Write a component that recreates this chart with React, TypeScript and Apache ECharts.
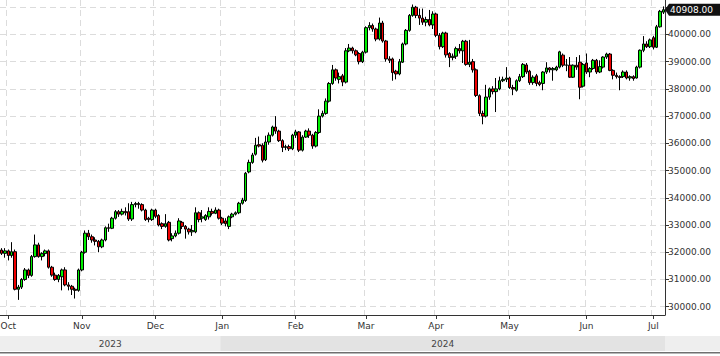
import React, { useEffect, useRef } from "react";
import * as echarts from "echarts";

const FIRST_DAY = "2023-09-28";
const LAST_DAY = "2024-07-04";
const CLOSED_DAYS = ["2023-12-25", "2024-01-01"];
const MONTHS = ["Jan", "Feb", "Mar", "Apr", "May", "Jun", "Jul", "Aug", "Sep", "Oct", "Nov", "Dec"];
const YEARS = ["2023", "2024"];

const opens = [
  32080, 31960, 32050, 31880, 32020, 30640, 30720, 31000, 31350, 31150,
  31840, 32270, 31840, 31950, 32050, 31450, 31160, 31000, 31100, 31350,
  30800, 30750, 30640, 30600, 31350, 32000, 32700, 32570, 32450, 32400,
  32200, 32450, 32900, 32880, 33250, 33490, 33400, 33500, 33490, 33220,
  33750, 33790, 33750, 33550, 33250, 33200, 33550, 33350, 33050, 32950,
  33100, 32500, 32600, 32700, 33100, 32950, 32850, 32750, 32750, 33450,
  33250, 33200, 33300, 33500, 33430, 33550, 33250, 33150, 32950, 33300,
  33400, 33450, 33800, 33900, 34950, 35300, 35600, 35950, 35930, 35400,
  36050, 36300, 36600, 36450, 36100, 35850, 35880, 35800, 36300, 36420,
  35750, 36230, 36450, 36300, 35900, 36400, 37000, 37100, 37550, 38200,
  38700, 38350, 38480, 38250, 39400, 39500, 39400, 39300, 39000, 39350,
  40250, 40330, 40200, 39830, 40420, 39760, 39100, 39100, 38650, 38550,
  38980, 39650, 40150, 40700, 41000, 40700, 40600, 40450, 40550, 40350,
  40750, 39970, 39550, 40050, 39300, 39150, 39200, 39480, 39400, 39750,
  38900, 39000, 38700, 37750, 37100, 37000, 37700, 38000, 37900, 38000,
  38300, 38350, 38400, 38050, 37950, 38300, 38450, 38880, 38650, 38230,
  38480, 38230, 38200, 38620, 38770, 38700, 38700, 38800, 39240, 38870,
  38870, 38430, 38870, 38980, 38100, 38950, 38620, 38750, 39050, 38620,
  38800, 39170, 39280, 38680, 38500, 38450, 38450, 38620, 38400, 38450,
  38400, 38800, 39420, 39650, 39550, 39880, 39530, 40280, 40820,
];

const closes = [
  31960, 32050, 31880, 32020, 30640, 30720, 31000, 31350, 31150, 31840,
  32270, 31840, 31950, 32050, 31450, 31160, 31000, 31150, 31350, 30800,
  30750, 30640, 30600, 31350, 32000, 32700, 32570, 32450, 32400, 32200,
  32450, 32900, 32880, 33250, 33490, 33400, 33500, 33450, 33220, 33750,
  33790, 33750, 33550, 33200, 33200, 33550, 33320, 33000, 32950, 33050,
  32450, 32600, 32700, 33150, 32950, 32850, 32750, 32800, 33450, 33200,
  33300, 33350, 33500, 33430, 33550, 33250, 33070, 33050, 33300, 33400,
  33450, 33800, 33920, 34900, 35300, 35570, 35930, 35900, 35380, 36050,
  36300, 36600, 36450, 36100, 35850, 35880, 35800, 36300, 36420, 35750,
  36230, 36450, 36300, 35900, 36400, 37000, 37100, 37550, 38200, 38700,
  38400, 38450, 38250, 39400, 39500, 39400, 39250, 39000, 39350, 40250,
  40330, 40200, 39830, 40420, 39760, 39100, 39050, 38600, 38550, 39000,
  39650, 40150, 40700, 41000, 40700, 40600, 40450, 40550, 40350, 40750,
  39970, 39550, 40050, 39250, 39150, 39200, 39480, 39400, 39750, 38900,
  38980, 38700, 37760, 37100, 37000, 37700, 38000, 37900, 38000, 38300,
  38350, 38400, 38050, 38000, 38300, 38450, 38900, 38620, 38230, 38430,
  38200, 38160, 38620, 38770, 38700, 38750, 38800, 39360, 38870, 38880,
  38430, 38870, 38800, 38060, 38900, 38620, 38750, 39050, 38620, 38820,
  39170, 39280, 38680, 38500, 38450, 38420, 38620, 38400, 38450, 38380,
  38800, 39420, 39650, 39550, 39800, 39530, 40280, 40850, 40908,
];

const lows = [
  31900, 31800, 31700, 31800, 30600, 30250, 30650, 30950, 31050, 31100,
  31800, 31800, 31700, 31850, 31400, 31100, 30950, 30900, 30600, 30750,
  30600, 30430, 30300, 30550, 31300, 31950, 32450, 32350, 32250, 32000,
  32150, 32400, 32750, 32850, 33200, 33300, 33350, 33350, 33150, 33150,
  33650, 33600, 33500, 33150, 33100, 33150, 33250, 32950, 32850, 32900,
  32400, 32400, 32550, 32650, 32850, 32500, 32650, 32600, 32700, 33100,
  33100, 33150, 33200, 33350, 33400, 33200, 33000, 32950, 32850, 33250,
  33350, 33400, 33750, 33850, 34900, 35250, 35550, 35850, 35300, 35350,
  35950, 36250, 36350, 36050, 35680, 35750, 35720, 35750, 36200, 35680,
  35700, 36200, 36200, 35800, 35850, 36350, 36950, 37050, 37500, 38150,
  38300, 38200, 38100, 38200, 39350, 39300, 39200, 38900, 38950, 39300,
  40150, 40100, 39750, 39780, 39700, 39000, 38950, 38300, 38350, 38500,
  38950, 39600, 40100, 40650, 40600, 40350, 40350, 40300, 40300, 40200,
  39900, 39450, 39500, 39150, 38800, 39050, 39100, 39300, 38950, 38850,
  38800, 38600, 37700, 37000, 36700, 36950, 37600, 37800, 37150, 37950,
  38250, 38250, 38000, 37770, 37900, 38250, 38400, 38550, 38150, 38150,
  38100, 38100, 37950, 38550, 38600, 38300, 38650, 38750, 38800, 38650,
  38400, 38400, 38700, 37620, 38050, 38550, 38430, 38700, 38550, 38580,
  38750, 39100, 38650, 38350, 38380, 37950, 38400, 38350, 38300, 38300,
  38380, 38750, 39350, 39500, 39500, 39450, 39500, 40250, 40750,
];

const highs = [
  32150, 32150, 32100, 32370, 32100, 30800, 31050, 31420, 31400, 31900,
  32650, 32350, 32000, 32100, 32100, 31500, 31250, 31200, 31400, 31450,
  30900, 30800, 30700, 31400, 32050, 32800, 32820, 32650, 32550, 32450,
  32500, 32950, 33050, 33300, 33550, 33550, 33600, 33650, 33800, 33850,
  33850, 33850, 33800, 33600, 33300, 33600, 33600, 33400, 33100, 33400,
  33150, 32700, 32800, 33250, 33150, 33000, 32900, 33000, 33650, 33500,
  33550, 33400, 33650, 33600, 33650, 33600, 33300, 33250, 33350, 33450,
  33500, 33850, 34000, 34950, 35400, 35650, 36200, 36250, 36000, 36280,
  36400, 36650, 37000, 36500, 36150, 35950, 35950, 36350, 36500, 36450,
  36300, 36500, 36550, 36350, 36450, 37250, 37200, 37650, 38250, 38880,
  38750, 38600, 38550, 39500, 39650, 39550, 39450, 39350, 39400, 40300,
  40450, 40400, 40250, 40620, 40500, 39800, 39200, 39150, 38700, 39100,
  39700, 40200, 40750, 41100, 41050, 40950, 40950, 40650, 40900, 40850,
  40800, 40050, 40100, 40100, 39350, 39300, 39550, 39650, 39800, 39800,
  39800, 39100, 38750, 37800, 37200, 38150, 38050, 38100, 38400, 38450,
  38450, 38800, 38450, 38150, 38350, 38550, 38950, 38950, 38700, 38500,
  38550, 38300, 38650, 38980, 38800, 38800, 38850, 39400, 39300, 39100,
  39170, 38900, 39170, 39240, 38950, 39300, 38800, 39100, 39100, 39050,
  39200, 39330, 39320, 38720, 38600, 38500, 38680, 38680, 38500, 38500,
  38850, 39450, 39940, 39750, 39850, 39950, 40350, 40900, 41030,
];

const FONT = "DejaVu Sans";

function tradingDays(): string[] {
  const out: string[] = [];
  const [y0, m0, d0] = FIRST_DAY.split("-").map(Number);
  const [y1, m1, d1] = LAST_DAY.split("-").map(Number);
  const d = new Date(Date.UTC(y0, m0 - 1, d0));
  const end = Date.UTC(y1, m1 - 1, d1);
  while (d.getTime() <= end) {
    const wd = d.getUTCDay();
    const s = d.toISOString().slice(0, 10);
    if (wd !== 0 && wd !== 6 && !CLOSED_DAYS.includes(s)) out.push(s);
    d.setUTCDate(d.getUTCDate() + 1);
  }
  return out;
}

export default function App() {
  const ref = useRef<HTMLDivElement>(null);
  useEffect(() => {
    if (!ref.current) return;
    const chart = echarts.init(ref.current, null, { renderer: "svg" });
    const dates = tradingDays();
    const data = dates.map((_, i) => [opens[i], closes[i], lows[i], highs[i]]);
    const lastClose = closes[closes.length - 1];
    const monthStart = (i: number) =>
      i > 0 && dates[i].slice(0, 7) !== dates[i - 1].slice(0, 7);

    chart.setOption({
      animation: false,
      backgroundColor: "#ffffff",
      grid: {
        left: 0,
        right: 55,
        top: -20,
        bottom: 41,
        containLabel: false,
        outerBoundsMode: "none",
      },
      xAxis: {
        type: "category",
        data: dates,
        boundaryGap: true,
        axisLine: { show: true, lineStyle: { color: "#333", width: 1 } },
        axisTick: {
          show: true,
          length: 4,
          alignWithLabel: true,
          interval: (i: number) => monthStart(i),
          lineStyle: { color: "#333" },
        },
        axisLabel: {
          interval: (i: number) => monthStart(i),
          formatter: (v: string) => MONTHS[Number(v.slice(5, 7)) - 1],
          color: "#333",
          fontSize: 9,
          fontFamily: FONT,
          margin: 6,
        },
        splitLine: {
          show: true,
          interval: (i: number) => monthStart(i),
          lineStyle: { color: "#dcdcdc", type: [6, 4], width: 1 },
        },
      },
      yAxis: {
        type: "value",
        position: "right",
        min: 29695,
        max: 42000,
        minInterval: 1000,
        maxInterval: 1000,
        splitNumber: 12,
        axisLine: { show: true, lineStyle: { color: "#333", width: 1 } },
        axisTick: { show: true, length: 4, lineStyle: { color: "#333" } },
        axisLabel: {
          showMinLabel: false,
          showMaxLabel: false,
          color: "#333",
          fontSize: 9,
          fontFamily: FONT,
          margin: 3,
          formatter: (v: number) =>
            Math.abs(v - lastClose) < 500 ? "" : v.toFixed(2),
        },
        splitLine: {
          show: true,
          lineStyle: { color: "#dcdcdc", type: [6, 4], width: 1 },
        },
      },
      series: [
        {
          type: "candlestick",
          data,
          barWidth: 3,
          itemStyle: {
            color: "#00f000",
            color0: "#f00000",
            borderColor: "#000",
            borderColor0: "#000",
            borderColorDoji: "#000",
            borderWidth: 1,
          },
        },
      ],
    });

    const px = (i: number) => chart.convertToPixel({ xAxisIndex: 0 }, dates[i]) as number;
    const catW = px(1) - px(0);
    const janIdx = dates.findIndex((d) => d.startsWith(YEARS[1]));
    const boundary = px(janIdx) - catW / 2;
    const plotRight = px(dates.length - 1) + catW / 2;
    const yLast = chart.convertToPixel({ yAxisIndex: 0 }, lastClose) as number;
    const bandY = 336;
    const bandH = 15;

    chart.setOption({
      graphic: [
        {
          type: "rect",
          silent: true,
          shape: { x: 0, y: bandY, width: 720, height: bandH },
          style: { fill: "#eeeeee" },
        },
        {
          type: "rect",
          silent: true,
          shape: { x: boundary, y: bandY, width: plotRight - boundary, height: bandH },
          style: { fill: "#e3e3e3" },
        },
        {
          type: "text",
          silent: true,
          x: boundary / 2,
          y: bandY + bandH / 2,
          style: {
            text: YEARS[0],
            fill: "#444",
            font: `9px ${FONT}`,
            textAlign: "center",
            textVerticalAlign: "middle",
          },
        },
        {
          type: "text",
          silent: true,
          x: (boundary + plotRight) / 2,
          y: bandY + bandH / 2,
          style: {
            text: YEARS[1],
            fill: "#444",
            font: `9px ${FONT}`,
            textAlign: "center",
            textVerticalAlign: "middle",
          },
        },
        {
          type: "rect",
          silent: true,
          shape: { x: 0, y: 352, width: 720, height: 1.5 },
          style: { fill: "#707070" },
        },
        {
          type: "polygon",
          silent: true,
          z: 20,
          shape: {
            points: [
              [plotRight, yLast],
              [plotRight + 4, yLast - 6],
              [720, yLast - 6],
              [720, yLast + 6],
              [plotRight + 4, yLast + 6],
            ],
          },
          style: { fill: "#111111" },
        },
        {
          type: "text",
          silent: true,
          z: 21,
          x: plotRight + 5,
          y: yLast,
          style: {
            text: lastClose.toFixed(2),
            fill: "#ffffff",
            font: `9px ${FONT}`,
            textAlign: "left",
            textVerticalAlign: "middle",
          },
        },
      ],
    });

    return () => chart.dispose();
  }, []);

  return (
    <div
      ref={ref}
      style={{ position: "fixed", left: 0, top: 0, width: 720, height: 356 }}
    />
  );
}
